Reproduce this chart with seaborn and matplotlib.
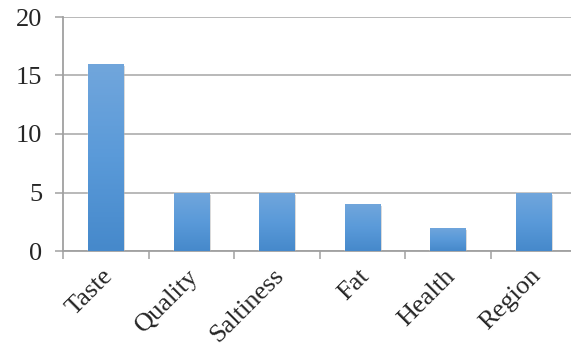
import numpy as np
import pandas as pd
import seaborn as sns
import matplotlib.pyplot as plt
import matplotlib.patheffects as pe
import matplotlib.transforms as mtransforms
from matplotlib.colors import LinearSegmentedColormap

# chart data
categories = ['Taste', 'Quality', 'Saltiness', 'Fat', 'Health', 'Region']
counts = [16, 5, 5, 4, 2, 5]

df = pd.DataFrame({'Factor': categories, 'Count': counts})

sns.set_style('white')
plt.rcParams['font.family'] = 'serif'
plt.rcParams['font.serif'] = ['Liberation Serif', 'Times New Roman', 'DejaVu Serif']

fig = plt.figure(figsize=(5.71, 3.52), dpi=100)
ax = fig.add_axes([63/571, 101/352, 513/571, 234/352])

sns.barplot(x='Factor', y='Count', data=df, ax=ax, color='#5b9bd9',
            width=0.41, saturation=1, zorder=3)

# gradient fill + soft shadow on each bar
grad = LinearSegmentedColormap.from_list('g', ['#4689cb', '#5a9ad9', '#71a6dc'])
for p in ax.patches:
    p.set_path_effects([pe.SimplePatchShadow(offset=(1.5, -1.5), shadow_rgbFace='#808080', alpha=0.35),
                        pe.Normal()])
    x0, y0 = p.get_x(), p.get_y()
    w, h = p.get_width(), p.get_height()
    im = ax.imshow(np.linspace(0, 1, 100).reshape(-1, 1), cmap=grad, origin='lower',
                   extent=[x0, x0 + w, y0, y0 + h], aspect='auto', zorder=4)
    im.set_clip_path(p)

ax.set_xlim(-0.5, 5.5)
ax.set_ylim(0, 20)
ax.set_yticks([0, 5, 10, 15, 20])

ax.yaxis.grid(True, color='#a6a6a6', linewidth=1.1, zorder=0)
ax.set_axisbelow(True)
for s in ['top', 'right']:
    ax.spines[s].set_visible(False)
for s in ['left', 'bottom']:
    ax.spines[s].set_color('#a0a0a0')
    ax.spines[s].set_linewidth(1.3)

# tick marks between categories
ax.set_xticks(np.arange(-0.5, 6, 1), minor=True)
ax.tick_params(axis='x', which='minor', length=6, color='#a0a0a0', width=1.1, direction='out', bottom=True)
ax.tick_params(axis='x', which='major', length=0, pad=10)
ax.tick_params(axis='y', length=6, color='#a0a0a0', width=1.1, direction='out', left=True, pad=9)

ax.set_xticks(range(len(categories)))
ax.set_xticklabels(categories, rotation=45, ha='right', rotation_mode='anchor',
                   fontsize=19, family='Liberation Serif')
shift = mtransforms.ScaledTranslation(-4/100, 0, fig.dpi_scale_trans)
for lab in ax.get_xticklabels():
    lab.set_transform(lab.get_transform() + shift)
for lab in ax.get_yticklabels():
    lab.set_fontsize(19)
    lab.set_family('Liberation Serif')

ax.set_xlabel('')
ax.set_ylabel('')

fig.savefig('out.png', dpi=100)
